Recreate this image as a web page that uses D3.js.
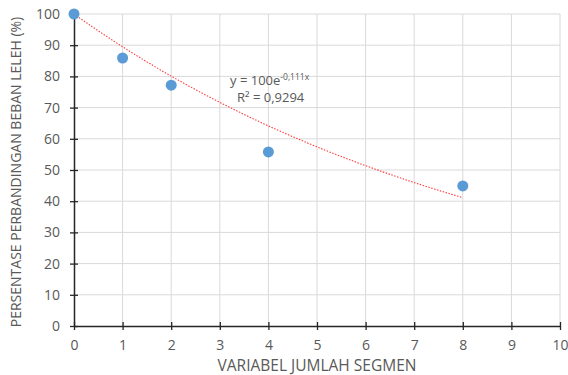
<!DOCTYPE html>
<html>
<head>
<meta charset="UTF-8">
<title>Segmen</title>
<script src="https://cdn.jsdelivr.net/npm/d3@7"></script>
<style>
  body { margin: 0; background: #fff; }
  text { font-family: "Open Sans", "Liberation Sans", sans-serif; fill: #595959; }
</style>
</head>
<body>
<script>
// data
var segmen = [0, 1, 2, 4, 8];
var persen = [100, 85.9, 77.2, 55.8, 44.9];
var xTicks = [0, 1, 2, 3, 4, 5, 6, 7, 8, 9, 10];
var yTicks = [0, 10, 20, 30, 40, 50, 60, 70, 80, 90, 100];
var trendA = 100, trendB = -0.111;

var w = 568, h = 375;
var svg = d3.select("body").append("svg").attr("width", w).attr("height", h);

var x = d3.scaleLinear().domain([0, 10]).range([74, 560]);
var y = d3.scaleLinear().domain([0, 100]).range([326, 14]);

// grid
svg.append("g").selectAll("line").data(yTicks.slice(1)).enter().append("line")
  .attr("x1", x(0)).attr("x2", x(10))
  .attr("y1", function(d){ return y(d); }).attr("y2", function(d){ return y(d); })
  .attr("stroke", "#d9d9d9").attr("stroke-width", 1);
svg.append("g").selectAll("line").data(xTicks.slice(1)).enter().append("line")
  .attr("y1", y(0)).attr("y2", y(100))
  .attr("x1", function(d){ return x(d); }).attr("x2", function(d){ return x(d); })
  .attr("stroke", "#d9d9d9").attr("stroke-width", 1);

// axes
var xAxis = d3.axisBottom(x).tickValues(xTicks).tickSizeInner(4).tickSizeOuter(0).tickPadding(10);
var gx = svg.append("g").attr("transform", "translate(0," + y(0) + ")").call(xAxis);
var yAxis = d3.axisLeft(y).tickValues(yTicks).tickSizeInner(4).tickSizeOuter(0).tickPadding(10);
var gy = svg.append("g").attr("transform", "translate(" + x(0) + ",0)").call(yAxis);

[gx, gy].forEach(function(g){
  g.select(".domain").attr("stroke", "#262626").attr("stroke-width", 1.5);
  g.selectAll(".tick line").attr("stroke", "#262626").attr("stroke-width", 1.3);
  g.selectAll(".tick text").style("font-size", "14px").attr("fill", "#6a6a6a");
});
// ticks cross the axis
gx.selectAll(".tick line").attr("y1", -4).attr("y2", 4);
gy.selectAll(".tick line").attr("x1", -4).attr("x2", 4);
gx.selectAll(".tick text").attr("dy", "0.71em");

// trendline
var tx = d3.range(0, 8.001, 0.1);
var line = d3.line().x(function(d){ return x(d); }).y(function(d){ return y(trendA * Math.exp(trendB * d)); });
svg.append("path").datum(tx).attr("d", line)
  .attr("fill", "none").attr("stroke", "#ff3b3b").attr("stroke-width", 1.1)
  .attr("stroke-dasharray", "1.5,1.5");

// points
svg.append("g").selectAll("circle").data(segmen).enter().append("circle")
  .attr("cx", function(d){ return x(d); })
  .attr("cy", function(d, i){ return y(persen[i]); })
  .attr("r", 5.5).attr("fill", "#5b9bd5");

// equation
var eq = svg.append("text").attr("x", 230).attr("y", 85).style("font-size", "13px");
eq.append("tspan").text("y = 100e");
eq.append("tspan").attr("dy", -5).style("font-size", "8.5px").text("-0,111x");
svg.append("text").attr("x", 237).attr("y", 102).style("font-size", "13px").text("R² = 0,9294");

// axis titles
svg.append("text").attr("transform", "translate(21," + 172 + ") rotate(-90)")
  .attr("text-anchor", "middle").style("font-size", "14px")
  .text("PERSENTASE PERBANDINGAN BEBAN LELEH (%)");
svg.append("text").attr("x", 317).attr("y", 371).attr("text-anchor", "middle")
  .style("font-size", "15.5px").text("VARIABEL JUMLAH SEGMEN");
</script>
</body>
</html>
